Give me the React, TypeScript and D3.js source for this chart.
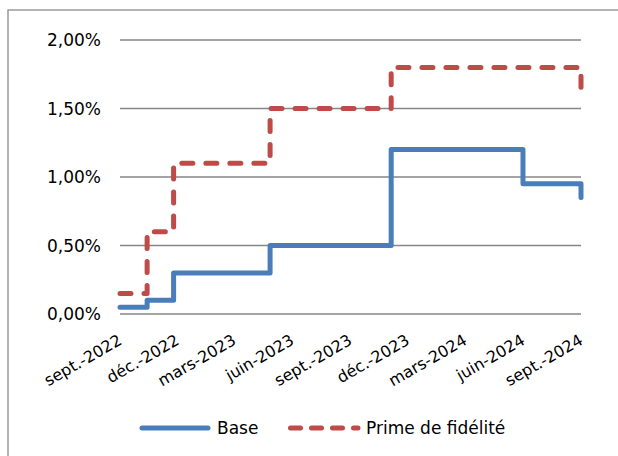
import * as d3 from "d3";

// chart values
const changeDates = ["2022-09-01", "2022-10-14", "2022-11-25", "2023-04-27", "2023-11-05", "2024-06-01", "2024-09-01"];
const baseValues = [0.05, 0.10, 0.30, 0.50, 1.20, 0.95, 0.85];
const primeDates = ["2022-09-01", "2022-10-14", "2022-11-25", "2023-04-27", "2023-11-05", "2024-09-01"];
const primeValues = [0.15, 0.60, 1.10, 1.50, 1.80, 1.60];
const yTicks = [0, 0.5, 1, 1.5, 2];
const tickDates = ["2022-09-01", "2022-12-01", "2023-03-01", "2023-06-01", "2023-09-01", "2023-12-01", "2024-03-01", "2024-06-01", "2024-09-01"];
const tickLabels = ["sept.-2022", "déc.-2022", "mars-2023", "juin-2023", "sept.-2023", "déc.-2023", "mars-2024", "juin-2024", "sept.-2024"];

const FONT = "'DejaVu Sans', Verdana, sans-serif";
const BLUE = "#4a7ebb";
const RED = "#be4b48";

const App = () => {
  const parse = d3.utcParse("%Y-%m-%d");

  const x = d3.scaleUtc()
    .domain([parse("2022-09-01")!, parse("2024-09-01")!])
    .range([120, 581]);
  const y = d3.scaleLinear().domain([0, 2]).range([314, 40]);

  const line = d3.line<[Date, number]>()
    .x((d) => x(d[0]))
    .y((d) => y(d[1]))
    .curve(d3.curveStepAfter);

  const baseData: [Date, number][] = changeDates.map((d, i) => [parse(d)!, baseValues[i]]);
  const primeData: [Date, number][] = primeDates.map((d, i) => [parse(d)!, primeValues[i]]);

  const fmt = (v: number) => v.toFixed(2).replace(".", ",") + "%";

  return (
    <svg width={618} height={456} style={{ position: "absolute", left: 0, top: 0, background: "#fff" }}>
      {/* chart border */}
      <rect x={8} y={10} width={640} height={480} fill="#fff" stroke="#9a9a9a" strokeWidth={1.5} />

      {/* gridlines + y labels */}
      {yTicks.map((t) => (
        <g key={t}>
          <line x1={120} x2={581} y1={y(t)} y2={y(t)} stroke="#868686" strokeWidth={1.6} />
          <text x={101} y={y(t)} dy="0.36em" textAnchor="end" fontFamily={FONT} fontSize={17} fill="#000">
            {fmt(t)}
          </text>
        </g>
      ))}

      {/* x labels */}
      {tickDates.map((d, i) => {
        const px = x(parse(d)!);
        return (
          <text
            key={d}
            transform={`translate(${px - 3},${333}) rotate(-30)`}
            dy="0.75em"
            textAnchor="end"
            fontFamily={FONT}
            fontSize={16}
            fill="#000"
          >
            {tickLabels[i]}
          </text>
        );
      })}

      {/* series */}
      <path d={line(baseData)!} fill="none" stroke={BLUE} strokeWidth={5} strokeLinejoin="round" strokeLinecap="round" />
      <path
        d={line(primeData)!}
        fill="none"
        stroke={RED}
        strokeWidth={5}
        strokeDasharray="11 13"
        strokeLinejoin="round"
        strokeLinecap="round"
      />

      {/* legend */}
      <line x1={142} x2={208} y1={428} y2={428} stroke={BLUE} strokeWidth={5} strokeLinecap="round" />
      <text x={217} y={428} dy="0.36em" fontFamily={FONT} fontSize={17} fill="#000">Base</text>
      <line x1={290.5} x2={358} y1={428} y2={428} stroke={RED} strokeWidth={5} strokeDasharray="10 11" strokeLinecap="round" />
      <text x={366} y={428} dy="0.36em" fontFamily={FONT} fontSize={17} fill="#000">Prime de fidélité</text>
    </svg>
  );
};

export default App;
